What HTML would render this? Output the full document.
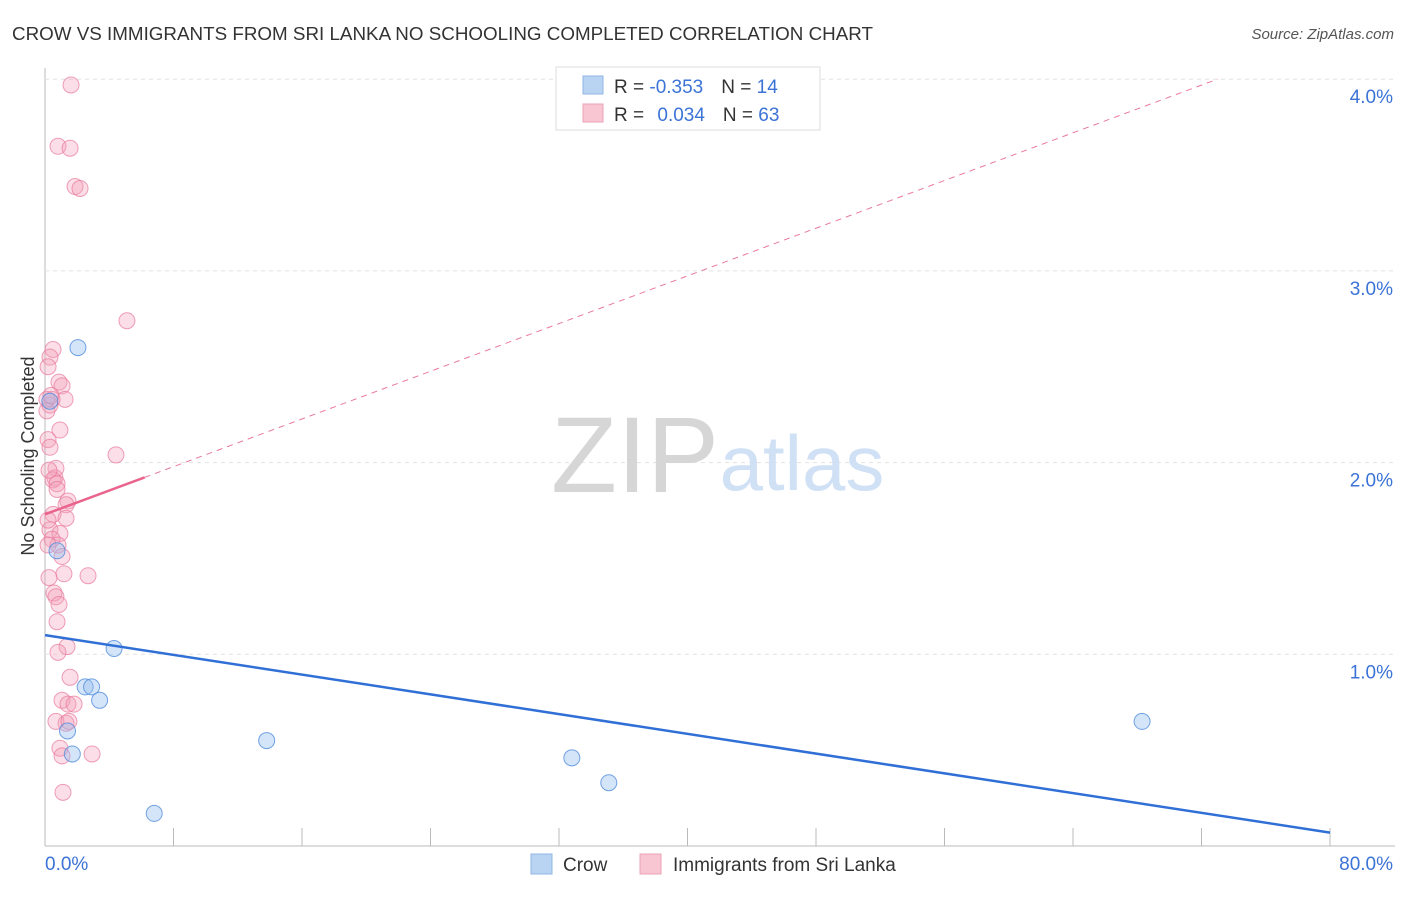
<!DOCTYPE html>
<html><head><meta charset="utf-8"><style>
body{margin:0;background:#fff;font-family:"Liberation Sans",sans-serif;}
svg text{font-family:"Liberation Sans",sans-serif;}
</style></head><body>
<svg id="c" width="1406" height="892">
<text x="12" y="40" font-size="18.8" fill="#333" textLength="861">CROW VS IMMIGRANTS FROM SRI LANKA NO SCHOOLING COMPLETED CORRELATION CHART</text>
<text x="1394" y="39" font-size="15" fill="#555" font-style="italic" text-anchor="end">Source: ZipAtlas.com</text>
<text x="0" y="0" font-size="18" fill="#333" transform="translate(34,456) rotate(-90)" text-anchor="middle">No Schooling Completed</text>
<g id="grid"></g>
<text x="635" y="492" font-size="108" fill="#d6d6d6" font-family="Liberation Serif" text-anchor="middle">ZIP</text>
<text x="802" y="490" font-size="78" fill="#d0e0f5" text-anchor="middle">atlas</text>
<g id="marks"></g>
<g>
<rect x="556" y="67" width="264" height="63" fill="#fff" stroke="#ddd"/>
<rect x="583" y="76" width="20" height="18" fill="#b9d3f3" stroke="#8fb6e6"/>
<text x="614" y="93" font-size="19" fill="#333">R = <tspan fill="#3b73d6">-0.353</tspan><tspan dx="18">N = </tspan><tspan fill="#3b73d6">14</tspan></text>
<rect x="583" y="104" width="20" height="18" fill="#f8c6d3" stroke="#eba3b7"/>
<text x="614" y="121" font-size="19" fill="#333">R = <tspan dx="8" fill="#3b73d6">0.034</tspan><tspan dx="18">N = </tspan><tspan fill="#3b73d6">63</tspan></text>
</g>
<g>
<rect x="531" y="854" width="21" height="20" fill="#b9d3f3" stroke="#8fb6e6"/>
<text x="563" y="871" font-size="19" fill="#333">Crow</text>
<rect x="640" y="854" width="21" height="20" fill="#f8c6d3" stroke="#eba3b7"/>
<text x="673" y="871" font-size="19" fill="#333">Immigrants from Sri Lanka</text>
</g>
</svg>
<script>
const xTicks=[0,8,16,24,32,40,48,56,64,72,80];
const yTicks=[1,2,3,4];
const yTickLabels=["1.0%","2.0%","3.0%","4.0%"];
const crowX=[2.05,0.3,0.75,4.3,2.5,2.9,3.4,1.4,1.7,13.8,32.8,35.1,6.8,68.3];
const crowY=[2.60,2.32,1.54,1.03,0.83,0.83,0.76,0.60,0.48,0.55,0.46,0.33,0.17,0.65];
const lankaX=[1.62,0.81,1.56,1.87,2.18,5.1,0.5,0.31,0.19,0.87,1.06,1.25,0.44,0.31,0.93,0.19,0.31,4.42,0.68,0.62,0.5,0.75,1.43,1.31,0.75,0.5,1.31,0.31,0.93,0.44,0.81,1.06,1.18,0.25,2.68,0.56,0.68,0.87,0.75,1.37,0.81,1.56,1.06,1.43,1.81,1.31,0.68,0.93,1.06,2.93,1.12,0.19,0.12,0.25,0.37,0.19,1.49,0.12];
const lankaY=[3.97,3.65,3.64,3.44,3.43,2.74,2.59,2.55,2.50,2.42,2.40,2.33,2.33,2.30,2.17,2.12,2.08,2.04,1.97,1.92,1.91,1.89,1.80,1.78,1.86,1.73,1.71,1.65,1.63,1.60,1.57,1.51,1.42,1.40,1.41,1.32,1.30,1.26,1.17,1.04,1.01,0.88,0.76,0.74,0.74,0.64,0.65,0.51,0.47,0.48,0.28,1.57,2.33,1.96,2.35,1.70,0.65,2.27];
const crowTrend=[1.10,0.07];
const lankaTrend=[1.73,0.0311];
const X=v=>45+v*(1330-45)/80;
const Y=v=>846-v*191.7;
const NS="http://www.w3.org/2000/svg";
function mk(parent,tag,attrs){const e=document.createElementNS(NS,tag);for(const k in attrs)e.setAttribute(k,attrs[k]);parent.appendChild(e);return e;}
const grid=document.getElementById('grid'),marks=document.getElementById('marks');
let ax=mk(grid,'line',{x1:45,y1:68,x2:45,y2:846,stroke:'#bbb'});


let bx=mk(grid,'line',{x1:45,y1:846,x2:1395,y2:846,stroke:'#bbb'});


yTicks.forEach((t,i)=>{
 const g=mk(grid,'line',{x1:45,y1:Y(t),x2:1395,y2:Y(t),stroke:'#e2e2e2','stroke-dasharray':'4,4'});
 
 
 const l=mk(grid,'text',{x:1393,y:Y(t)+24,'font-size':19,fill:'#3b73d6','text-anchor':'end'});
 l.textContent=yTickLabels[i];
 
 
});
xTicks.slice(1).forEach(t=>{
 const k=mk(grid,'line',{x1:X(t),y1:828,x2:X(t),y2:846,stroke:'#bbb'});
 
 
});
[[0,"0.0%","start",45],[80,"80.0%","end",1393]].forEach(a=>{
 const l=mk(grid,'text',{x:a[3],y:870,'font-size':19,fill:'#3b73d6','text-anchor':a[2]});
 l.textContent=a[1];
 
 
});
lankaX.forEach((x,i)=>{
 const c=mk(marks,'circle',{cx:X(x),cy:Y(lankaY[i]),r:8,fill:'rgba(244,160,185,0.35)',stroke:'rgba(232,120,155,0.7)','stroke-width':1});
 
 
});
crowX.forEach((x,i)=>{
 const c=mk(marks,'circle',{cx:X(x),cy:Y(crowY[i]),r:8,fill:'rgba(150,190,240,0.4)',stroke:'rgba(80,140,220,0.8)','stroke-width':1});
 
 
});
const lt=x=>lankaTrend[0]+lankaTrend[1]*x;
let ld=mk(marks,'line',{x1:X(6.2),y1:Y(lt(6.2)),x2:X(73),y2:Y(lt(73)),stroke:'#e9799d','stroke-width':1,'stroke-dasharray':'6,5'});


let ls=mk(marks,'line',{x1:X(0),y1:Y(lt(0)),x2:X(6.2),y2:Y(lt(6.2)),stroke:'#e9638d','stroke-width':2.5});


let cl=mk(marks,'line',{x1:X(0),y1:Y(crowTrend[0]),x2:X(80),y2:Y(crowTrend[1]),stroke:'#2f6fd6','stroke-width':2.5});


</script>
</body></html>
